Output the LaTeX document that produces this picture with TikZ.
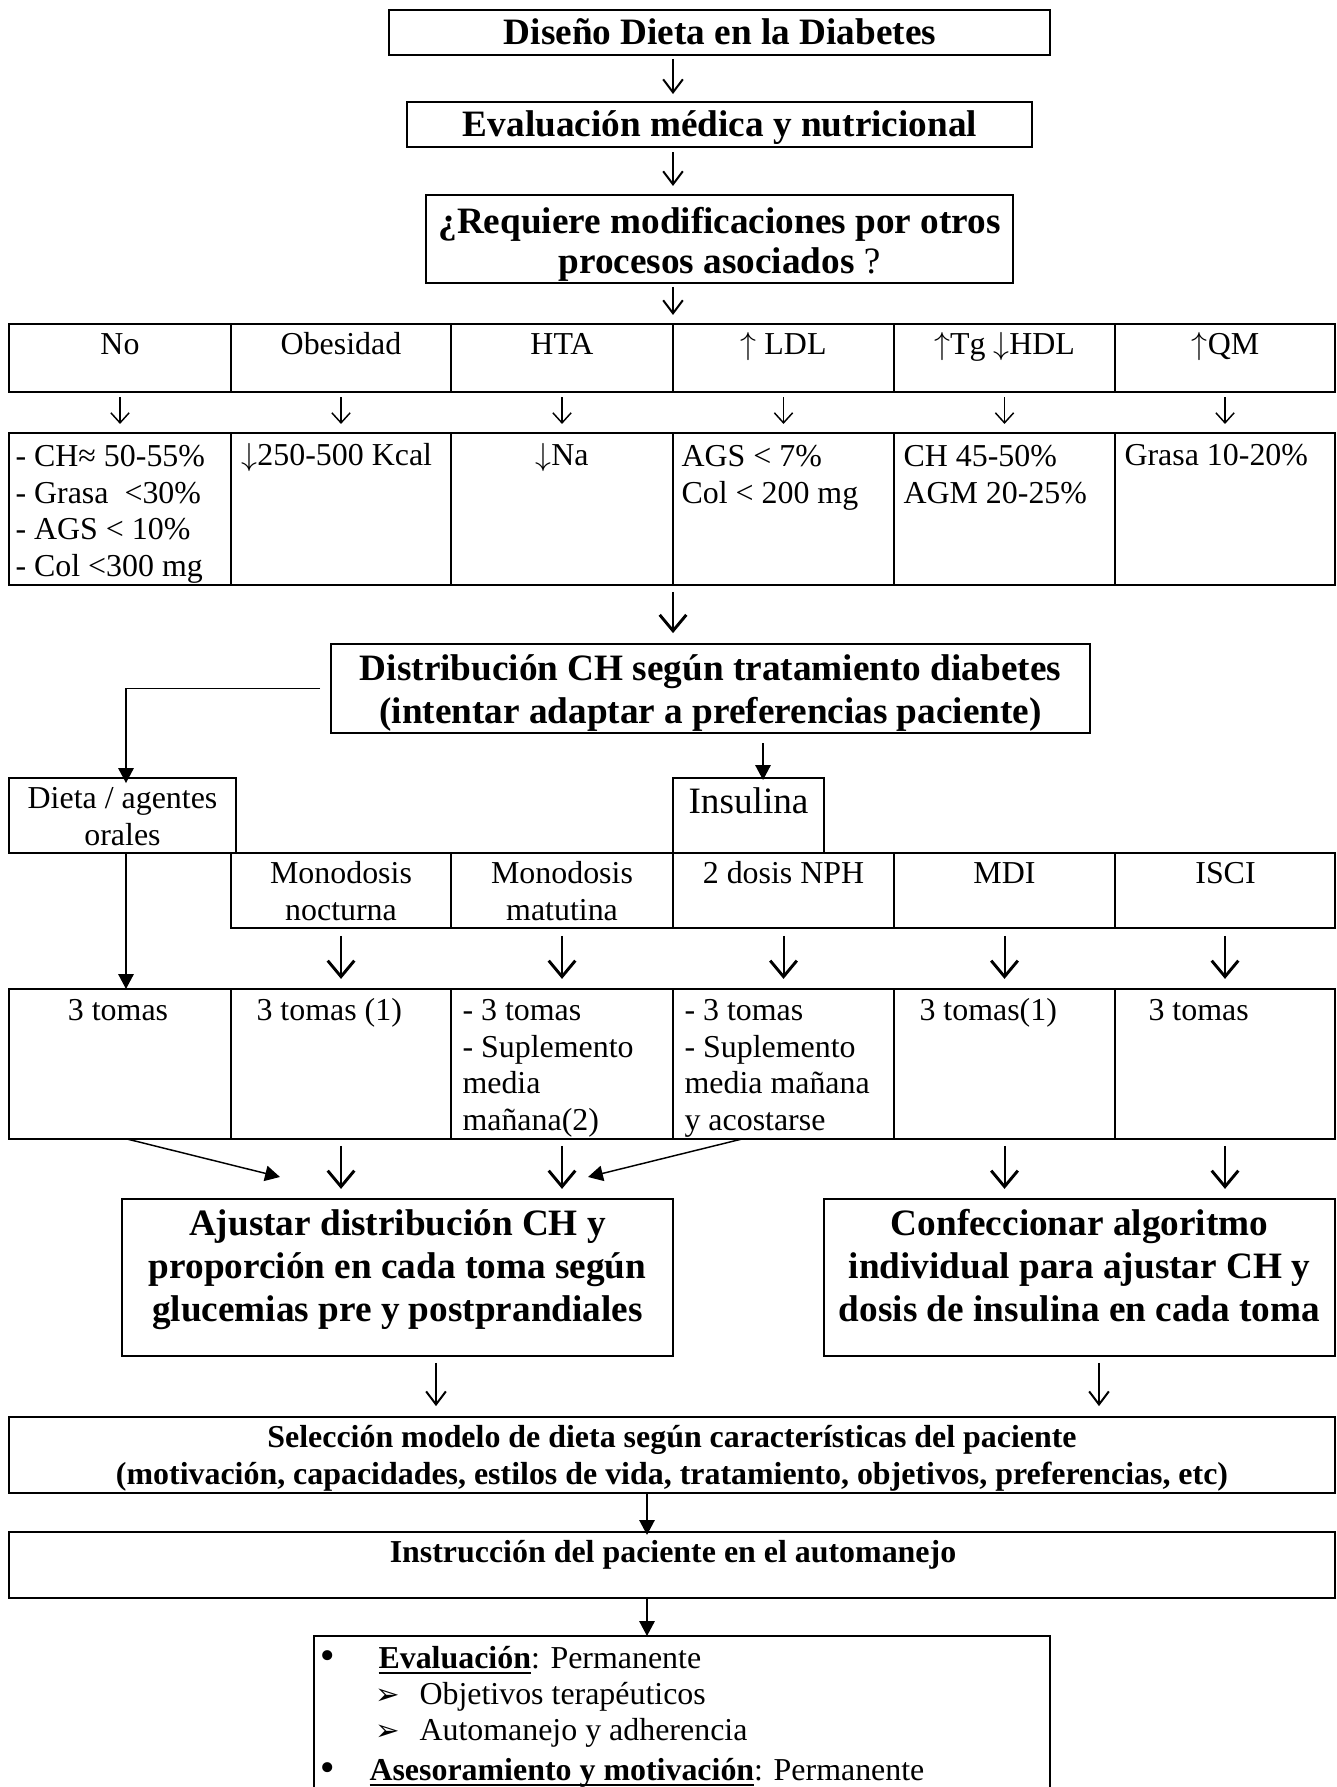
\documentclass[tikz,border=0pt]{standalone}
\usepackage{fontspec}
\setmainfont{Liberation Serif}
\newfontfamily\djv{DejaVu Sans}
\usetikzlibrary{fit,arrows.meta}
\newsavebox\ulbox
\newcommand\myul[1]{\sbox\ulbox{#1}\rlap{\rule[-2.1pt]{\wd\ulbox}{0.55pt}}\usebox\ulbox}
\newcommand\mkcell[5]{\node[frame, fit={(#2,#3)(#4,#5)}] (#1) {};}
\begin{document}
\begin{tikzpicture}[x=0.376pt,y=-0.376pt,
  frame/.style={draw, line width=0.6pt, inner sep=0pt, outer sep=0pt},
  t12/.style={inner sep=0pt, font=\fontsize{12}{13.8}\selectfont},
  t12b/.style={inner sep=0pt, font=\fontsize{12}{13.8}\selectfont\bfseries},
  t14/.style={inner sep=0pt, font=\fontsize{14}{16.1}\selectfont},
  t14b/.style={inner sep=0pt, font=\fontsize{14}{16.1}\selectfont\bfseries},
  bul/.style={inner sep=0pt, font=\djv\fontsize{13}{13}\selectfont},
  chev/.style={inner sep=0pt, font=\djv\fontsize{11}{11}\selectfont},
  gS/.style={line width=0.4pt, -{Straight Barb[length=3.8pt,width=6.9pt,line width=0.55pt]}},
  gM/.style={line width=0.4pt, -{Straight Barb[length=4.9pt,width=7.4pt,line width=0.75pt]}},
  gL/.style={line width=0.75pt, -{Straight Barb[length=6pt,width=10pt,line width=1.1pt]}},
  fA/.style={line width=0.55pt, -{Triangle[length=5.6pt,width=5.8pt]}}]
\fill[white] (0,0) rectangle (1337,1787);
\useasboundingbox (0,0) rectangle (1337,1787);

% ---------- top boxes ----------
\node[frame, fit={(389,10)(1050,55)}] (b1) {};
\node[t14b, anchor=base] (b1t) at (720,45) {Diseño Dieta en la Diabetes};
\node[frame, fit={(407,102)(1032,147)}] (b2) {};
\node[t14b, anchor=base] (b2t) at (720,137) {Evaluación médica y nutricional};
\node[frame, fit={(426,195)(1013,283)}] (b3) {};
\node[t14b, font=\fontsize{14}{15.2}\selectfont\bfseries, align=center, anchor=north] (b3t) at (719.5,204.7)
  {\strut¿Requiere modificaciones por otros\\procesos asociados {\mdseries ?}};

% ---------- table rows 1 and 2 ----------
\mkcell{r1c1}{9}{324}{231}{392}
\mkcell{r1c2}{231}{324}{451}{392}
\mkcell{r1c3}{451}{324}{673}{392}
\mkcell{r1c4}{673}{324}{894}{392}
\mkcell{r1c5}{894}{324}{1115}{392}
\mkcell{r1c6}{1115}{324}{1335}{392}
\mkcell{r2c1}{9}{433}{231}{585}
\mkcell{r2c2}{231}{433}{451}{585}
\mkcell{r2c3}{451}{433}{673}{585}
\mkcell{r2c4}{673}{433}{894}{585}
\mkcell{r2c5}{894}{433}{1115}{585}
\mkcell{r2c6}{1115}{433}{1335}{585}

\node[t12, anchor=base] (r1t1) at (120,355) {No};
\node[t12, anchor=base] (r1t2) at (341,355) {Obesidad};
\node[t12, anchor=base] (r1t3) at (562,355) {HTA};
\node[t12, anchor=base] (r1t4) at (783.5,355) {$\uparrow$ LDL};
\node[t12, anchor=base] (r1t5) at (1004.5,355) {$\uparrow$Tg $\downarrow$HDL};
\node[t12, anchor=base] (r1t6) at (1225.5,355) {$\uparrow$QM};

\node[t12, align=left, anchor=north west] (r2t1) at (15,440.3)
  {\strut- CH≈ 50-55\%\\- Grasa\ \ <30\%\\- AGS < 10\%\\- Col <300 mg};
\node[t12, anchor=base west] (r2t2) at (241,466) {$\downarrow$250-500 Kcal};
\node[t12, anchor=base] (r2t3) at (562,466) {$\downarrow$Na};
\node[t12, align=left, anchor=north west] (r2t4) at (681,440.3) {\strut AGS < 7\%\\Col < 200 mg};
\node[t12, align=left, anchor=north west] (r2t5) at (903,440.3) {\strut CH 45-50\%\\AGM 20-25\%};
\node[t12, anchor=base west] (r2t6) at (1124,466) {Grasa 10-20\%};

% ---------- distribution ----------
\node[frame, fit={(331,644)(1090,733)}] (dist) {};
\node[t14b, align=center, anchor=north] (distt) at (710.5,650)
  {\strut Distribución CH según tratamiento diabetes\\(intentar adaptar a preferencias paciente)};
\node[frame, fit={(9,778)(236,853)}] (dieta) {};
\node[t12, align=center, anchor=north] (dietat) at (122.5,782.3) {\strut Dieta / agentes\\orales};
\node[frame, fit={(673,778)(824,853)}] (ins) {};
\node[t14, anchor=base] (inst) at (748.5,813) {Insulina};

% ---------- row 3 ----------
\mkcell{r3c2}{231}{853}{451}{928}
\mkcell{r3c3}{451}{853}{673}{928}
\mkcell{r3c4}{673}{853}{894}{928}
\mkcell{r3c5}{894}{853}{1115}{928}
\mkcell{r3c6}{1115}{853}{1335}{928}
\node[t12, align=center, anchor=north] (r3t2) at (341,857.3) {\strut Monodosis\\nocturna};
\node[t12, align=center, anchor=north] (r3t3) at (562,857.3) {\strut Monodosis\\matutina};
\node[t12, anchor=base] (r3t4) at (783.5,883) {2 dosis NPH};
\node[t12, anchor=base] (r3t5) at (1004.5,883) {MDI};
\node[t12, anchor=base] (r3t6) at (1225.5,883) {ISCI};

% ---------- row 4 ----------
\mkcell{r4c1}{9}{989}{231}{1139}
\mkcell{r4c2}{231}{989}{451}{1139}
\mkcell{r4c3}{451}{989}{673}{1139}
\mkcell{r4c4}{673}{989}{894}{1139}
\mkcell{r4c5}{894}{989}{1115}{1139}
\mkcell{r4c6}{1115}{989}{1335}{1139}
\node[t12, anchor=base] (r4t1) at (118,1020) {3 tomas};
\node[t12, anchor=base west] (r4t2) at (256,1020) {3 tomas (1)};
\node[t12, align=left, anchor=north west] (r4t3) at (462,994.3) {\strut- 3 tomas\\- Suplemento\\media\\mañana(2)};
\node[t12, align=left, anchor=north west] (r4t4) at (684,994.3) {\strut- 3 tomas\\- Suplemento\\media mañana\\y acostarse};
\node[t12, anchor=base west] (r4t5) at (919,1020) {3 tomas(1)};
\node[t12, anchor=base west] (r4t6) at (1148,1020) {3 tomas};

% ---------- lower boxes ----------
\node[frame, fit={(122,1199)(673,1356)}] (aj) {};
\node[t14b, align=center, anchor=north] (ajt) at (397.5,1205)
  {\strut Ajustar distribución CH y\\proporción en cada toma según\\glucemias pre y postprandiales};
\node[frame, fit={(824,1199)(1335,1356)}] (conf) {};
\node[t14b, align=center, anchor=north] (conft) at (1079.5,1205)
  {\strut Confeccionar algoritmo\\individual para ajustar CH y\\dosis de insulina en cada toma};
\node[frame, fit={(9,1417)(1335,1493)}] (sel) {};
\node[t12b, align=center, anchor=north] (selt) at (672,1421.3)
  {\strut Selección modelo de dieta según características del paciente\\(motivación, capacidades, estilos de vida, tratamiento, objetivos, preferencias, etc)};
\node[frame, fit={(9,1532)(1335,1598)}] (instr) {};
\node[t12b, anchor=base] (instrt) at (673,1562) {Instrucción del paciente en el automanejo};
\node[inner sep=0pt, outer sep=0pt, fit={(314,1636)(1050,1787)}] (last) {};
\draw[line width=0.6pt] (last.south west) -- (last.north west) -- (last.north east) -- (last.south east);
\node[bul, anchor=base] (bu1) at (328,1668) {•};
\node[t12, anchor=base west] (bl1) at (378,1668) {\myul{\bfseries Evaluación}: Permanente};
\node[chev, anchor=base west] (ar1) at (375,1704) {➢};
\node[t12, anchor=base west] (bl2) at (419,1704) {Objetivos terapéuticos};
\node[chev, anchor=base west] (ar2) at (375,1740) {➢};
\node[t12, anchor=base west] (bl3) at (419,1740) {Automanejo y adherencia};
\node[bul, anchor=base] (bu2) at (328,1780) {•};
\node[t12, anchor=base west] (bl4) at (369,1780) {\myul{\bfseries Asesoramiento y motivación}: Permanente};

% ---------- connectors ----------
\coordinate (cx) at (673,0);
\draw[gM, shorten <=1.5pt, shorten >=3pt] (b1.south -| cx) -- (b2.north -| cx);
\draw[gM, shorten <=1.9pt, shorten >=3.4pt] (b2.south -| cx) -- (b3.north -| cx);
\draw[gM, shorten <=1.5pt, shorten >=3.4pt] (b3.south -| cx) -- (r1c4.north west);
\foreach \c in {1,...,6} \draw[gS, shorten <=1.9pt, shorten >=3.4pt] (r1c\c) -- (r2c\c);
\draw[gL, shorten <=2.6pt, shorten >=4.1pt] (r2c4.south west) -- (dist.north -| r2c4.south west);
\coordinate (dl) at (126,0);
\draw[fA, shorten <=4.1pt, shorten >=-1.9pt] (dist.west) -| (dieta.north -| dl);
\coordinate (ix) at (763,0);
\draw[fA, shorten <=3.8pt, shorten >=-0.75pt] (dist.south -| ix) -- (ins.north -| ix);
\draw[fA] (dieta.south -| dl) -- (r4c1.north -| dl);
\foreach \c in {2,...,6} \draw[gL, shorten <=3pt, shorten >=3.8pt] (r3c\c) -- (r4c\c);
\draw[gL, shorten <=2.6pt, shorten >=3.8pt] (r4c2) -- (aj.north -| r4c2);
\draw[gL, shorten <=2.6pt, shorten >=3.8pt] (r4c3) -- (aj.north -| r4c3);
\draw[gL, shorten <=2.6pt, shorten >=3.8pt] (r4c5) -- (conf.north -| r4c5);
\draw[gL, shorten <=2.6pt, shorten >=3.8pt] (r4c6) -- (conf.north -| r4c6);
\coordinate (d1s) at (127,0);
\coordinate (d1e) at (280,1177);
\draw[fA] (r4c1.south -| d1s) -- (d1e);
\coordinate (d2s) at (742,0);
\coordinate (d2e) at (588,1177);
\draw[fA] (r4c4.south -| d2s) -- (d2e);
\coordinate (ax) at (436,0);
\coordinate (bx) at (1099,0);
\draw[gM, shorten <=2.6pt, shorten >=4.1pt] (aj.south -| ax) -- (sel.north -| ax);
\draw[gM, shorten <=2.6pt, shorten >=4.1pt] (conf.south -| bx) -- (sel.north -| bx);
\coordinate (sx) at (647,0);
\draw[fA, shorten >=-1.1pt] (sel.south -| sx) -- (instr.north -| sx);
\draw[fA] (instr.south -| sx) -- (last.north -| sx);
\end{tikzpicture}
\end{document}
